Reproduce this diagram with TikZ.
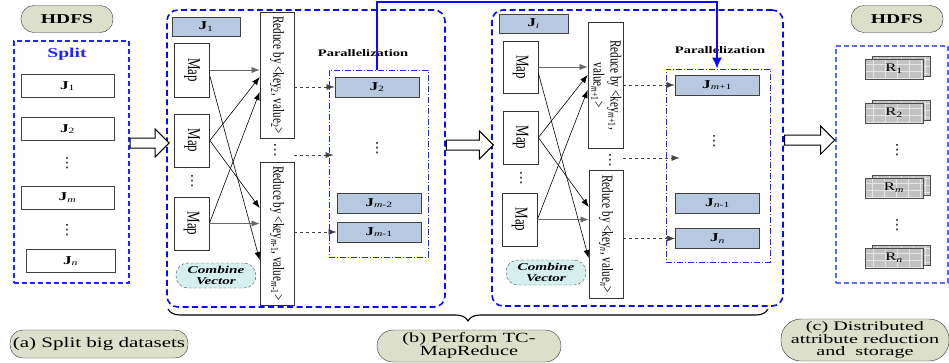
\documentclass[tikz,border=0pt]{standalone}
\usepackage{amsmath}
\usepackage{fontspec}
\setmainfont{Liberation Serif}[FakeStretch=1.45]
\newfontfamily\narrowfont{Liberation Serif}[FakeStretch=0.72]
\newfontfamily\widefont{Liberation Serif}[FakeStretch=1.55]
\newfontfamily\dotfont{DejaVu Sans}
\usetikzlibrary{arrows.meta, positioning, shapes.arrows, decorations.pathreplacing, calc}
\definecolor{ovalfill}{HTML}{DCDFCA}
\definecolor{jfill}{HTML}{B7C8E1}
\definecolor{cvfill}{HTML}{D5EEEE}
\definecolor{gridfill}{HTML}{C2C2C2}
\definecolor{stageblue}{HTML}{0A0AF5}
\definecolor{splitblue}{HTML}{2424FF}
\definecolor{storeblue}{HTML}{5470F0}
\newcommand{\jlab}[1]{\textbf{J}\textsubscript{#1}}
\newcommand{\vtext}[1]{\rotatebox{-90}{#1}}

\begin{document}
\begin{tikzpicture}[x=1pt, y=-1pt,
  oval/.style={rectangle, rounded corners=13pt, draw=black!80, fill=ovalfill, inner sep=0pt, align=center, font=\fontsize{14.5}{12.5}\selectfont},
  hdfs/.style={oval, minimum width=92pt, minimum height=27pt, font=\fontsize{13.5}{13.5}\selectfont\bfseries},
  stage/.style={draw=stageblue, line width=1.6pt, dash pattern=on 6pt off 3.5pt, rounded corners=11pt, inner sep=0pt},
  splitbox/.style={draw=splitblue, line width=1.2pt, dash pattern=on 5pt off 3pt, inner sep=0pt},
  storebox/.style={draw=storeblue, line width=1.2pt, dash pattern=on 5pt off 3pt, inner sep=0pt},
  parbox/.style={draw=splitblue, line width=1pt, dash pattern=on 6pt off 2pt on 1pt off 2pt, inner sep=0pt},
  jbox/.style={draw=black!75, line width=0.9pt, fill=white, inner sep=0pt, minimum width=93pt, minimum height=23pt, font=\fontsize{12}{12}\selectfont},
  jpar/.style={jbox, fill=jfill, minimum width=84pt, minimum height=20pt},
  mapbox/.style={draw=black!80, line width=0.7pt, fill=white, inner sep=0pt, minimum width=35pt, minimum height=53pt, font=\narrowfont\fontsize{18}{18}\selectfont},
  redbox/.style={draw=black!80, line width=0.7pt, fill=white, inner sep=0pt, minimum width=34pt, font=\narrowfont\fontsize{15.5}{17}\selectfont},
  cvec/.style={rectangle, rounded corners=12pt, draw=black!70, densely dashed, fill=cvfill, minimum width=80pt, minimum height=25pt, inner sep=0pt, align=center, font=\fontsize{10.5}{11.5}\selectfont\bfseries\itshape},
  rbox/.style={draw=black!70, fill=gridfill, minimum width=58pt, minimum height=20pt, inner sep=0pt, font=\fontsize{11.5}{11.5}\selectfont,
    path picture={\draw[white!80!gray, line width=0.8pt] (path picture bounding box.south west) grid[xstep=12pt, ystep=7pt] (path picture bounding box.north east);}},
  dotsl/.style={font=\dotfont\fontsize{14}{14}\selectfont, inner sep=0pt},
  plabel/.style={font=\fontsize{10}{10}\selectfont\bfseries},
  arr/.style={-{Latex[length=8pt, width=6pt]}, line width=0.6pt},
  garr/.style={arr, black!60},
  darr/.style={arr, black!75, dashed},
  link/.style={stageblue, line width=1.5pt, -{Latex[length=11pt, width=10pt]}},
  bigarr/.style={single arrow, draw=black, line width=1pt, fill=white, inner sep=4.5pt, single arrow head extend=9pt},
  brace/.style={decorate, decoration={brace, mirror, amplitude=12pt}, line width=1.1pt}
]
\useasboundingbox (0,0) rectangle (949,362);

% (a) split the data
\node[hdfs] (hdfsL) at (67,19) {HDFS};
\node[splitbox, minimum width=115pt, minimum height=242pt] (split) at (71.5,162) {};
\node[font=\fontsize{13.5}{13.5}\selectfont\bfseries, text=splitblue] (splitT) at (67,54) {Split};
\node[jbox] (s1) at (67.5,86) {\jlab{1}};
\node[jbox] (s2) at (67.5,129) {\jlab{2}};
\node[dotsl] (sd1) at (67,163) {⋮};
\node[jbox] (sm) at (67.5,197.5) {\jlab{\textit{m}}};
\node[dotsl] (sd2) at (67,230) {⋮};
\node[jbox, minimum width=89pt] (sn) at (70.5,261) {\jlab{\textit{n}}};

% (b) the two MapReduce stages
\node[stage, minimum width=278pt, minimum height=297pt] (stA) at (306,158.5) {};
\node[stage, minimum width=291pt, minimum height=296pt] (stB) at (637.5,158) {};

\node[jpar, minimum width=68pt, minimum height=19pt] (j1) at (206,26.5) {\jlab{1}};
\node[mapbox, minimum height=54pt] (a1) at (192,70) {\vtext{Map}};
\node[mapbox] (a2) at (192,140.5) {\vtext{Map}};
\node[dotsl] (ad) at (192,181) {⋮};
\node[mapbox] (a3) at (191.5,223.5) {\vtext{Map}};
\node[redbox, minimum height=126pt] (r1) at (277,75) {\vtext{Reduce by <key\textsubscript{2}, value\textsubscript{2}>}};
\node[dotsl] (rd) at (275,150) {⋮};
\node[redbox, minimum height=143pt] (r2) at (277,233.5) {\vtext{Reduce by <key\textsubscript{\textit{m}-1}, value\textsubscript{\textit{m}-1}>}};
\node[plabel] (pA) at (363,53) {Parallelization};
\node[parbox, minimum width=99pt, minimum height=187pt] (parA) at (378.5,163.5) {};
\node[jpar] (j2) at (377,87) {\jlab{2}};
\node[dotsl] (jd) at (377,148) {⋮};
\node[jpar] (jm2) at (379,203) {\jlab{\textit{m}-2}};
\node[jpar] (jm1) at (379,232) {\jlab{\textit{m}-1}};
\node[cvec] (cvA) at (216,275.5) {Combine\\Vector};

\draw[garr] (a1.east) -- (a1.east -| r1.west);
\draw[arr] ($(a1.east)+(0,6)$) -- (r2.west |- 0,260);
\draw[arr] (a2.east) -- (r1.west |- 0,77);
\draw[arr] (a2.east) -- (r2.west |- 0,208);
\draw[arr] (a3.east) -- (r1.west |- 0,92);
\draw[garr] (a3.east) -- (a3.east -| r2.west);
\draw[darr] (r1.east |- j2.west) -- (j2.west);
\draw[darr] (r1.east |- 0,155) -- ($(parA.west |- 0,155)+(5,0)$);
\draw[darr] (r2.east |- jm1.west) -- (jm1.west);

\node[jpar, minimum width=69pt, minimum height=19pt] (ji) at (533.5,23.5) {\jlab{\textit{i}}};
\node[mapbox, minimum height=52pt] (b1) at (520.5,67) {\vtext{Map}};
\node[mapbox] (b2) at (520.5,137.5) {\vtext{Map}};
\node[dotsl] (bd) at (521,178) {⋮};
\node[mapbox] (b3) at (519.5,219.5) {\vtext{Map}};
\node[redbox, minimum width=35pt, minimum height=126pt] (q1) at (605.5,85) {\vtext{\begin{tabular}{@{}c@{}}Reduce by <key\textsubscript{\textit{m}+1},\\ value\textsubscript{\textit{m}+1}>\end{tabular}}};
\node[dotsl] (qd) at (610,160) {⋮};
\node[redbox, minimum height=128pt] (q2) at (606,234) {\vtext{Reduce by <key\textsubscript{\textit{n}}, value\textsubscript{\textit{n}}>}};
\node[plabel] (pB) at (720,50) {Parallelization};
\node[parbox, minimum width=104pt, minimum height=193pt] (parB) at (718,165.5) {};
\node[jpar] (jmp) at (717,85) {\jlab{\textit{m}+1}};
\node[dotsl] (jd2) at (714,141) {⋮};
\node[jpar] (jn1) at (717.5,203) {\jlab{\textit{n}-1}};
\node[jpar] (jn) at (717.5,238.5) {\jlab{\textit{n}}};
\node[cvec] (cvB) at (546,272.5) {Combine\\Vector};

\draw[garr] (b1.east) -- (b1.east -| q1.west);
\draw[arr] ($(b1.east)+(0,6)$) -- (q2.west |- 0,258);
\draw[arr] (b2.east) -- (q1.west |- 0,75);
\draw[arr] (b2.east) -- (q2.west |- 0,207);
\draw[arr] (b3.east) -- (q1.west |- 0,90);
\draw[garr] (b3.east) -- (b3.east -| q2.west);
\draw[darr] (q1.east |- jmp.west) -- (jmp.west);
\draw[darr] (q1.east |- 0,158) -- ($(parB.west |- 0,158)+(14,0)$);
\draw[darr] (q2.east |- jn.west) -- (jn.west);

\draw[link] (j2.north |- parA.north) -- (j2.north |- 0,2) -| (jmp.north |- parB.north);

% (c) store the reducts
\node[hdfs] (hdfsR) at (897,19) {HDFS};
\node[storebox, minimum width=112pt, minimum height=237pt] (store) at (892,164.5) {};
\node[rbox] (rb1) at (901,66.5) {};
\node[rbox] (rr1) at (894,69) {R\textsubscript{1}};
\node[rbox] (rb2) at (901,110.5) {};
\node[rbox] (rr2) at (894,113) {R\textsubscript{2}};
\node[dotsl] (rd1) at (897,150) {⋮};
\node[rbox] (rbm) at (901,185.5) {};
\node[rbox] (rrm) at (894,188) {R\textsubscript{\textit{m}}};
\node[dotsl] (rd2) at (897,225) {⋮};
\node[rbox] (rbn) at (901,255.5) {};
\node[rbox] (rrn) at (894,258) {R\textsubscript{\textit{n}}};

% hollow arrows between the phases
\node[bigarr, minimum height=39pt, anchor=tail] (ar1) at (split.east |- 0,143) {};
\node[bigarr, minimum height=47pt, anchor=tail] (ar2) at (stA.east |- 0,145) {};
\node[bigarr, minimum height=50pt, anchor=tip] (ar3) at (store.west |- 0,140) {};

% captions
\coordinate (brL) at (168,309);
\coordinate (brR) at (768,309);
\draw[brace] (brL) -- (brR);
\node[oval, minimum width=178pt, minimum height=28pt] (capA) at (99,344) {(a) Split big datasets};
\node[oval, rounded corners=16pt, minimum width=184pt, minimum height=32pt, font=\fontsize{14}{13}\selectfont] (capB) at (469,346) {(b) Perform TC-\\MapReduce};
\node[oval, rounded corners=20pt, minimum width=168pt, minimum height=42pt, font=\widefont\fontsize{13}{12.5}\selectfont] (capC) at (865,340) {(c) Distributed\\attribute reduction\\and\ \ storage};
\end{tikzpicture}
\end{document}
